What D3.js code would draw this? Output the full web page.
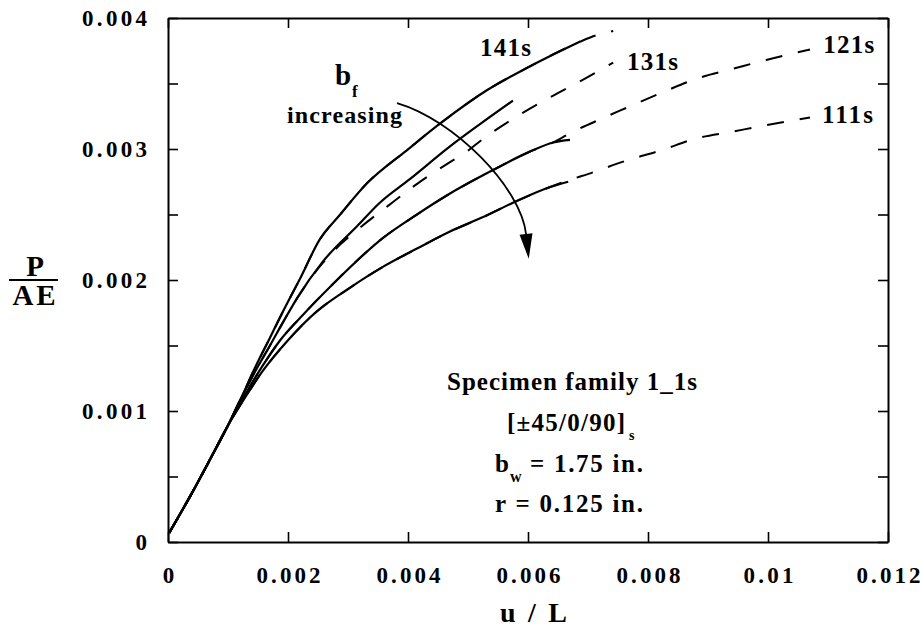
<!DOCTYPE html>
<html><head><meta charset="utf-8">
<script src="https://cdn.jsdelivr.net/npm/d3@7"></script>
<style>
html,body{margin:0;padding:0;background:#fff;}
svg{display:block;}
svg text{font-family:"Liberation Serif","Times New Roman",serif;font-weight:bold;fill:#000;}
</style></head><body>
<svg id="chart" width="920" height="630"></svg>
<script>
// ---- data (u/L , P/AE) ----
const xTicks = [0, 0.002, 0.004, 0.006, 0.008, 0.01, 0.012];
const xTickLabels = ["0", "0.002", "0.004", "0.006", "0.008", "0.01", "0.012"];
const yTicks = [0, 0.0005, 0.001, 0.0015, 0.002, 0.0025, 0.003, 0.0035, 0.004];
const yTickLabels = ["0", "", "0.001", "", "0.002", "", "0.003", "", "0.004"];

const specimens = ["111s", "121s", "131s", "141s"];

// solid = test, dashed = analysis
const test111 = [[0.00002,0.00007],[0.00037,0.00035],[0.0007,0.00063],[0.001,0.00089],[0.00128,0.0011],[0.00157,0.0013],[0.002,0.00154],[0.00248,0.00176],[0.00303,0.00194],[0.00358,0.0021],[0.00415,0.00224],[0.0047,0.00237],[0.00525,0.00248],[0.00575,0.00259],[0.00637,0.00271],[0.00667,0.00275]];
const analysis111 = [[0.00002,0.00007],[0.00037,0.00035],[0.0007,0.00063],[0.001,0.00089],[0.00128,0.0011],[0.00157,0.0013],[0.002,0.00154],[0.00248,0.00176],[0.00303,0.00194],[0.00358,0.0021],[0.00415,0.00224],[0.0047,0.00237],[0.00525,0.00248],[0.00575,0.00259],[0.00637,0.00271],[0.00667,0.00276],[0.00707,0.00282],[0.00763,0.00291],[0.00822,0.00299],[0.0088,0.00308],[0.00938,0.00313],[0.00995,0.00318],[0.0107,0.00324]];

const test121 = [[0.00002,0.00007],[0.00037,0.00035],[0.0007,0.00063],[0.001,0.00089],[0.00128,0.00112],[0.00157,0.00134],[0.00187,0.00154],[0.0022,0.00171],[0.00275,0.00197],[0.00358,0.00232],[0.00415,0.0025],[0.0047,0.00266],[0.00542,0.00284],[0.00603,0.00298],[0.00642,0.00305],[0.0067,0.00307]];
const analysis121 = [[0.00002,0.00007],[0.00037,0.00035],[0.0007,0.00063],[0.001,0.00089],[0.00128,0.00112],[0.00157,0.00134],[0.00187,0.00154],[0.0022,0.00171],[0.00275,0.00197],[0.00358,0.00232],[0.00415,0.0025],[0.0047,0.00266],[0.00542,0.00284],[0.00603,0.00298],[0.00642,0.00305],[0.0067,0.00312],[0.00712,0.00321],[0.00767,0.00332],[0.00828,0.00344],[0.00883,0.00354],[0.0094,0.00361],[0.00997,0.00368],[0.0107,0.00376]];

const test131 = [[0.00002,0.00007],[0.00037,0.00035],[0.0007,0.00063],[0.001,0.00089],[0.0012,0.00108],[0.00145,0.0013],[0.0017,0.0015],[0.00192,0.00168],[0.00215,0.00186],[0.00258,0.00214],[0.00315,0.00241],[0.00353,0.00259],[0.00403,0.00277],[0.0047,0.00302],[0.0052,0.00319],[0.00575,0.00337]];
const analysis131 = [[0.00002,0.00007],[0.00037,0.00035],[0.0007,0.00063],[0.001,0.00089],[0.0012,0.00108],[0.00145,0.0013],[0.0017,0.0015],[0.00192,0.00168],[0.00215,0.00186],[0.00258,0.00213],[0.00287,0.00227],[0.0032,0.0024],[0.00365,0.00256],[0.00417,0.00274],[0.0047,0.0029],[0.00495,0.00297],[0.00523,0.00307],[0.00575,0.00323],[0.00635,0.00339],[0.00692,0.00353],[0.00742,0.00366]];

const test141 = [[0.00002,0.00007],[0.00037,0.00035],[0.0007,0.00063],[0.001,0.00089],[0.0012,0.00108],[0.00145,0.00133],[0.0017,0.00156],[0.00195,0.00179],[0.0022,0.00201],[0.00253,0.00231],[0.00287,0.0025],[0.00332,0.00274],[0.00398,0.00299],[0.00458,0.00321],[0.00532,0.00345],[0.00603,0.00363],[0.00687,0.00382]];
const analysis141 = [[0.00002,0.00007],[0.00037,0.00035],[0.0007,0.00063],[0.001,0.00089],[0.0012,0.00108],[0.00145,0.00133],[0.0017,0.00156],[0.00195,0.00179],[0.0022,0.00201],[0.00253,0.00231],[0.00287,0.0025],[0.00332,0.00274],[0.00398,0.00299],[0.00458,0.00321],[0.00532,0.00345],[0.00603,0.00363],[0.00687,0.00382],[0.00715,0.00387],[0.00742,0.0039]];

// label anchors (data units)
const seriesLabelX = [0.0109, 0.01092, 0.00765, 0.0052];
const seriesLabelY = [0.0032, 0.00373, 0.0036, 0.00371];

// "b_f increasing" arrow (data units: start, c1, c2, end)
const arrowPts = [[0.003817,0.003351],[0.004783,0.003221],[0.005883,0.002702],[0.005967,0.002351]];

const infoLines = ["Specimen family 1_1s", "[±45/0/90]", "= 1.75 in.", "r = 0.125 in."];

// ---- drawing ----
const svg = d3.select("#chart");
const x = d3.scaleLinear().domain([0, 0.012]).range([168, 888]);
const y = d3.scaleLinear().domain([0, 0.004]).range([542, 18]);

function styleAxis(g, fs) {
  g.attr("font-family", null).attr("font-size", null);
  g.select(".domain").attr("stroke", "#000").attr("stroke-width", 2);
  g.selectAll(".tick line").attr("stroke", "#000").attr("stroke-width", 1.6);
  g.selectAll(".tick text").attr("fill", "#000").style("font-size", fs + "px");
}
function labW(s) { return s.length === 5 ? 64 : (s.length === 4 ? 50 : null); }

const gx = svg.append("g").attr("transform", "translate(0,542)")
  .call(d3.axisBottom(x).tickValues(xTicks).tickFormat((d, i) => xTickLabels[i])
    .tickSizeInner(-10).tickSizeOuter(0).tickPadding(25));
styleAxis(gx, 23);
gx.selectAll(".tick text").each(function (d, i) {
  const w = labW(xTickLabels[i]);
  if (w) d3.select(this).attr("textLength", w).attr("lengthAdjust", "spacing");
});

const gy = svg.append("g").attr("transform", "translate(168,0)")
  .call(d3.axisLeft(y).tickValues(yTicks).tickFormat((d, i) => yTickLabels[i])
    .tickSizeInner(-10).tickSizeOuter(0).tickPadding(21));
styleAxis(gy, 23);
gy.selectAll(".tick text").each(function (d, i) {
  const w = labW(yTickLabels[i]);
  if (w) d3.select(this).attr("textLength", w + 1).attr("lengthAdjust", "spacing");
});

const gt = svg.append("g").attr("transform", "translate(0,18)")
  .call(d3.axisTop(x).tickValues(xTicks).tickFormat("").tickSizeInner(-10).tickSizeOuter(0));
styleAxis(gt, 23);
const gr = svg.append("g").attr("transform", "translate(888,0)")
  .call(d3.axisRight(y).tickValues(yTicks).tickFormat("").tickSizeInner(-10).tickSizeOuter(0));
styleAxis(gr, 23);

// curves
const line = d3.line().x(d => x(d[0])).y(d => y(d[1])).curve(d3.curveMonotoneX);
const analyses = [analysis111, analysis121, analysis131, analysis141];
const tests = [test111, test121, test131, test141];
svg.append("g").selectAll("path").data(analyses).join("path")
  .attr("d", line).attr("fill", "none").attr("stroke", "#000")
  .attr("stroke-width", 2).attr("stroke-dasharray", "17,16");
svg.append("g").selectAll("path").data(tests).join("path")
  .attr("d", line).attr("fill", "none").attr("stroke", "#000")
  .attr("stroke-width", 2.2).attr("stroke-linejoin", "round");

// series labels
svg.append("g").selectAll("text").data(specimens).join("text")
  .attr("x", (d, i) => x(seriesLabelX[i])).attr("y", (d, i) => y(seriesLabelY[i]))
  .attr("font-size", 25).attr("textLength", 51).attr("lengthAdjust", "spacing")
  .text(d => d);

// arrow
const ap = arrowPts.map(p => [x(p[0]), y(p[1])]);
svg.append("path")
  .attr("d", `M${ap[0][0]},${ap[0][1]} C${ap[1][0]},${ap[1][1]} ${ap[2][0]},${ap[2][1]} ${ap[3][0]},${ap[3][1]}`)
  .attr("fill", "none").attr("stroke", "#000").attr("stroke-width", 1.8);
(function () {
  const e = ap[3], c = ap[2];
  let dx = e[0] - c[0], dy = e[1] - c[1];
  const L = Math.hypot(dx, dy); dx /= L; dy /= L;
  const len = 25, hw = 6.5;
  const tip = [e[0] + dx * len, e[1] + dy * len];
  const b1 = [e[0] - dy * hw, e[1] + dx * hw], b2 = [e[0] + dy * hw, e[1] - dx * hw];
  svg.append("path").attr("d", `M${tip[0]},${tip[1]} L${b1[0]},${b1[1]} L${b2[0]},${b2[1]} Z`)
    .attr("fill", "#000");
})();

// b_f increasing
const bf = svg.append("text").attr("x", 335).attr("y", 85).attr("font-size", 29);
bf.append("tspan").text("b");
bf.append("tspan").attr("x", 352).attr("dy", 12).attr("font-size", 17).text("f");
svg.append("text").attr("x", 287).attr("y", 123).attr("font-size", 24)
  .attr("textLength", 115).attr("lengthAdjust", "spacing").text("increasing");

// info block
function spaceTo(sel, target) {
  sel.each(function () {
    const w = this.getComputedTextLength();
    const n = this.textContent.length;
    if (n > 1) d3.select(this).style("letter-spacing", ((target - w) / (n - 1)) + "px");
  });
}
const t1 = svg.append("text").attr("x", 447).attr("y", 390).attr("font-size", 25).text(infoLines[0]);
spaceTo(t1, 250);
const t2 = svg.append("text").attr("y", 431).attr("font-size", 25);
const t2a = t2.append("tspan").attr("x", 507).text(infoLines[1]);
spaceTo(t2a, 118);
t2.append("tspan").attr("x", 629).attr("dy", 9).attr("font-size", 14).text("s");
const t3 = svg.append("text").attr("y", 472).attr("font-size", 25);
t3.append("tspan").attr("x", 495).text("b");
t3.append("tspan").attr("x", 510).attr("dy", 10).attr("font-size", 16).text("w");
const t3c = t3.append("tspan").attr("x", 530).attr("dy", -10).text(infoLines[2]);
spaceTo(t3c, 113);
const t4 = svg.append("text").attr("x", 495).attr("y", 512).attr("font-size", 25).text(infoLines[3]);
spaceTo(t4, 148);

// axis titles
svg.append("text").attr("x", 500).attr("y", 622).attr("font-size", 28)
  .attr("textLength", 67).attr("lengthAdjust", "spacing").text("u / L");
svg.append("text").attr("x", 35).attr("y", 276).attr("text-anchor", "middle").attr("font-size", 29).text("P");
svg.append("line").attr("x1", 9).attr("x2", 58).attr("y1", 280).attr("y2", 280)
  .attr("stroke", "#000").attr("stroke-width", 2);
svg.append("text").attr("x", 34).attr("y", 305).attr("text-anchor", "middle").attr("font-size", 29)
  .attr("textLength", 43).attr("lengthAdjust", "spacing").text("AE");
</script>
</body></html>
